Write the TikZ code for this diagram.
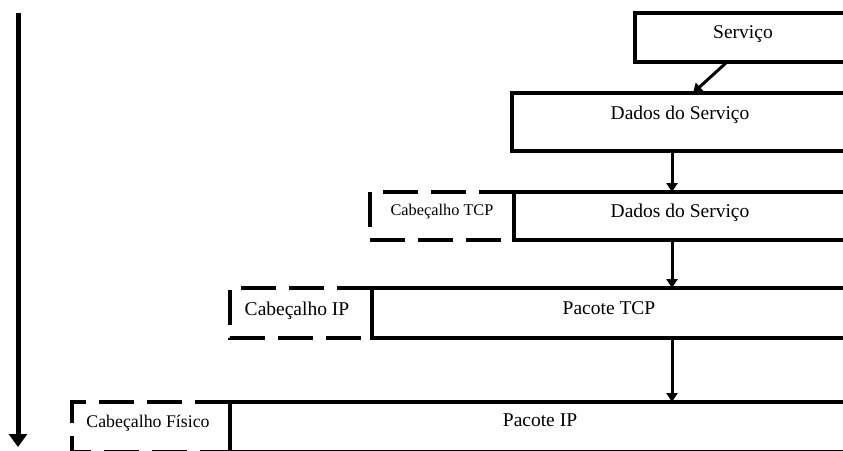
\documentclass[tikz,border=0pt]{standalone}
\usepackage{fontspec}
\setmainfont{Liberation Serif}
\usetikzlibrary{arrows.meta,calc}
\begin{document}
\begin{tikzpicture}[x=1pt,y=-1pt,
  solidbox/.style={draw, line width=4pt, rectangle, inner sep=0pt, outer sep=0pt, anchor=north west},
  hdrline/.style={line width=4pt, dash pattern=on 35pt off 13pt},
  conn/.style={line width=3pt, -{Triangle[width=11pt,length=9pt]}},
  bigarrow/.style={line width=5pt, -{Triangle[width=18pt,length=13pt]}},
  lbl/.style={anchor=base, inner sep=0pt, font=\fontsize{19.5}{21}\selectfont},
  smalllbl/.style={anchor=base, inner sep=0pt, font=\fontsize{16.3}{18}\selectfont},
  midlbl/.style={anchor=base, inner sep=0pt, font=\fontsize{17.8}{19}\selectfont},
  ]
\useasboundingbox (0,0) rectangle (843,450);
\clip (0,0) rectangle (843,450);

% solid boxes
\node[solidbox, minimum width=213pt, minimum height=49pt] (b1) at (635,13) {};
\node[solidbox, minimum width=336pt, minimum height=58pt] (b2) at (512,93) {};
\node[solidbox, minimum width=334pt, minimum height=48pt] (b3) at (514,192) {};
\node[solidbox, minimum width=476pt, minimum height=50pt] (b4) at (372,288) {};
\node[solidbox, minimum width=618pt, minimum height=50pt] (b5) at (230,402) {};

% dashed header boxes
\draw[hdrline] (b3.north west) -- ++(-144,0) -- ++(0,48) -- (b3.south west);
\draw[hdrline] (b4.north west) -- ++(-142,0) -- ++(0,50) -- (b4.south west);
\draw[hdrline] (b5.north west) -- ++(-158,0) -- ++(0,50) -- (b5.south west);

% labels
\node[lbl] (t1) at (743,38) {Serviço};
\node[lbl] (t2) at (680,119) {Dados do Serviço};
\node[smalllbl] (h1) at (442,215) {Cabeçalho TCP};
\node[lbl] (t3) at (680,217) {Dados do Serviço};
\node[lbl] (h2) at (297,315) {Cabeçalho IP};
\node[lbl] (t4) at (609,314) {Pacote TCP};
\node[midlbl] (h3) at (148,427) {Cabeçalho Físico};
\node[lbl] (t5) at (540,426) {Pacote IP};

% connectors
\coordinate (ax) at (672,0);
\draw[conn] ($(b1.south west)+(92,0)$) -- ($(b2.north west)+(181,0)$);
\draw[conn] (b2.south -| ax) -- (b3.north -| ax);
\draw[conn] (b3.south -| ax) -- (b4.north -| ax);
\draw[conn] (b4.south -| ax) -- (b5.north -| ax);

% left direction arrow
\coordinate (la) at (18,13);
\coordinate (lb) at (18,447);
\draw[bigarrow] (la) -- (lb);
\end{tikzpicture}
\end{document}
